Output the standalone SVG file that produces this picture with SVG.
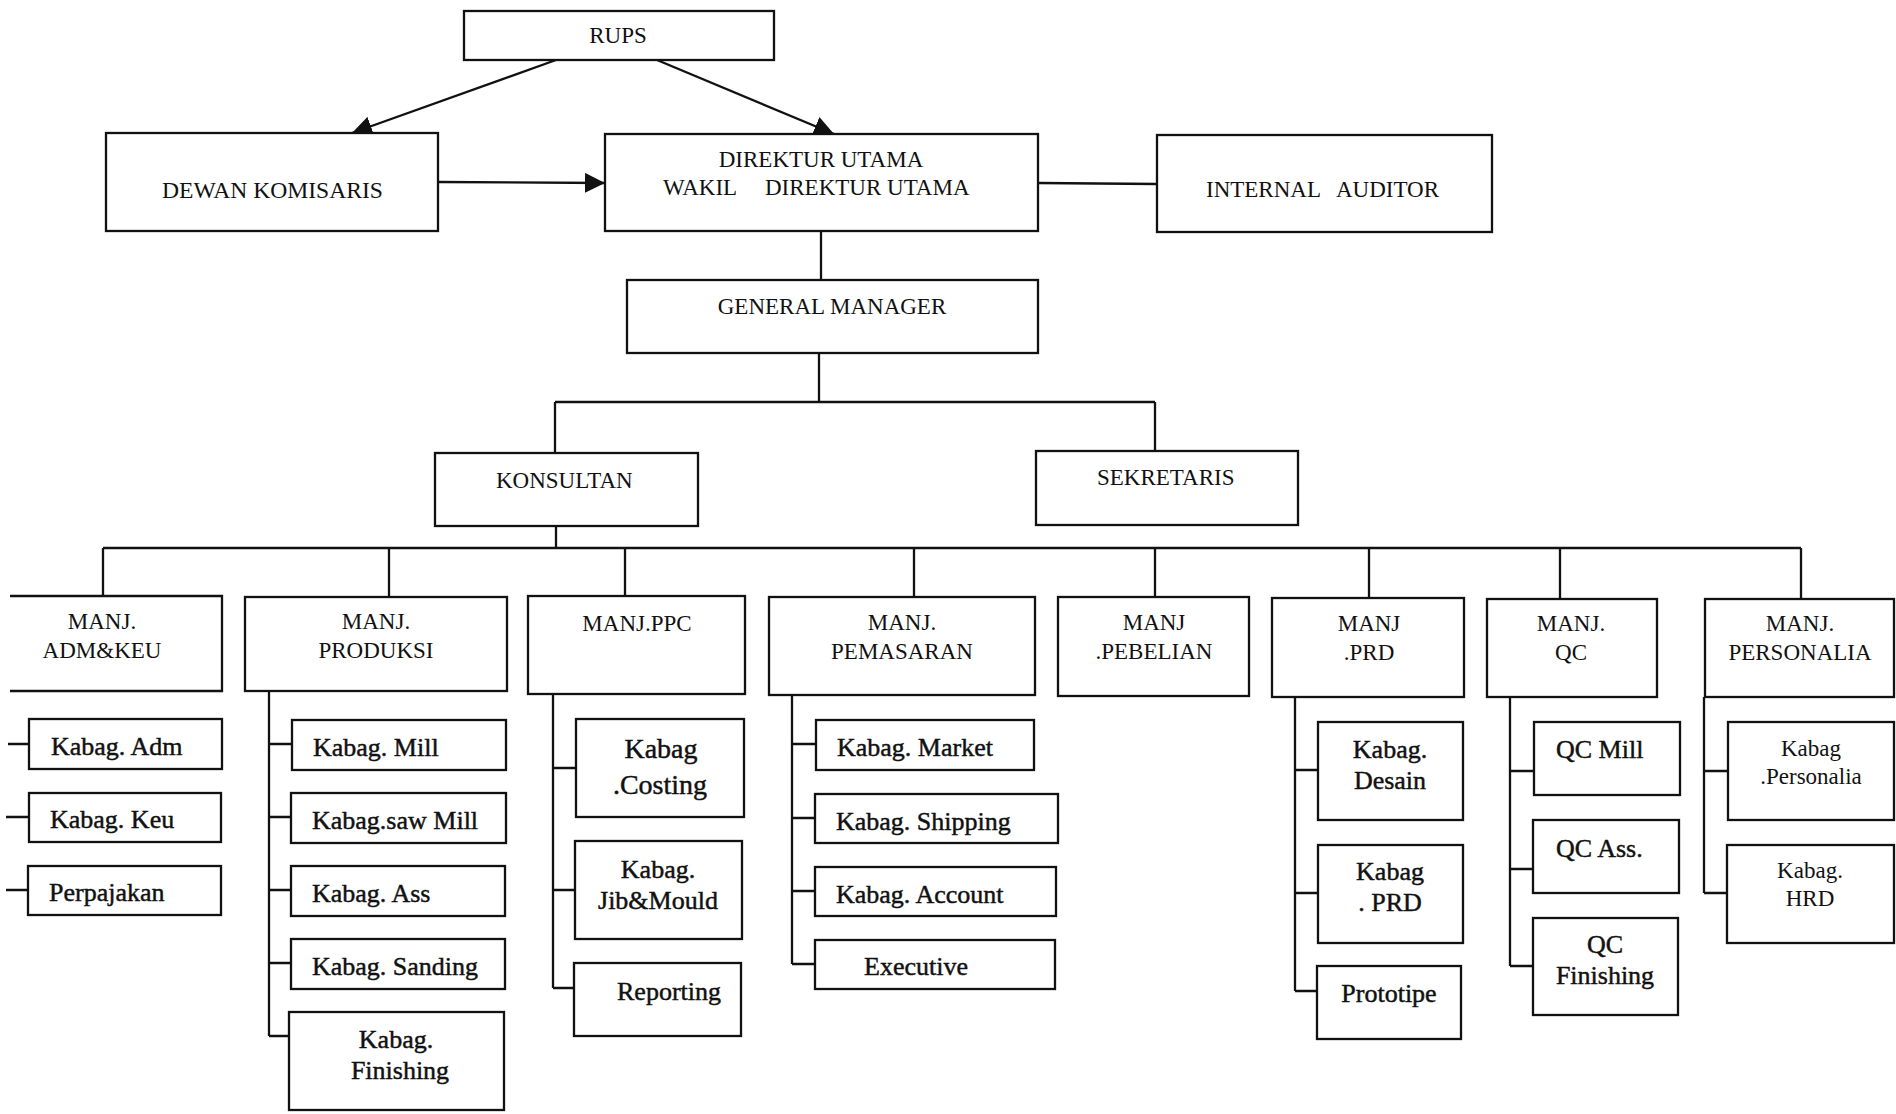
<svg xmlns="http://www.w3.org/2000/svg" width="1896" height="1114" viewBox="0 0 1896 1114">
  <style>
    .box { fill: #ffffff; stroke: #111111; stroke-width: 2.3; }
    .c { fill: none; stroke: #111111; stroke-width: 2.3; }
    .t { font-family: "Liberation Serif", "Times New Roman", serif; fill: #111111; }
    .h { font-size: 23px; }
    .s { font-size: 26px; stroke: #111111; stroke-width: 0.45; }
    .m { text-anchor: middle; }
  </style>
  <defs>
    <marker id="arrow" markerUnits="userSpaceOnUse" markerWidth="22" markerHeight="20" refX="20" refY="10" orient="auto">
      <path d="M0,0 L20,10 L0,20 z" fill="#111111"/>
    </marker>
  </defs>
  <rect width="1896" height="1114" fill="#ffffff"/>

  <!-- connectors -->
  <g id="connectors">
    <line class="c" x1="556" y1="60" x2="352" y2="133" marker-end="url(#arrow)"/>
    <line class="c" x1="657" y1="60" x2="834" y2="134" marker-end="url(#arrow)"/>
    <line class="c" x1="438" y1="182" x2="605" y2="183" marker-end="url(#arrow)"/>
    <line class="c" x1="1038" y1="183" x2="1157" y2="184"/>
    <line class="c" x1="821" y1="231" x2="821" y2="280"/>
    <path class="c" d="M819,353 V402 M555,402 H1155 M555,402 V453 M1155,402 V451"/>
    <path class="c" d="M556,526 V548 M103,548 H1801 M103,548 V596 M389,548 V597 M625,548 V596 M914,548 V597 M1155,548 V597 M1369,548 V598 M1560,548 V599 M1801,548 V599"/>
    <!-- adm & keu -->
    <path class="c" d="M8,744 H29 M6,817 H29 M6,890 H28"/>
    <!-- produksi -->
    <path class="c" d="M269,691 V1036 M269,744 H292 M269,817 H291 M269,890 H291 M269,963 H291 M269,1036 H289"/>
    <!-- ppc -->
    <path class="c" d="M553,694 V988 M553,768 H576 M553,890 H575 M553,988 H574"/>
    <!-- pemasaran -->
    <path class="c" d="M792,695 V964 M792,744 H816 M792,818 H815 M792,891 H815 M792,964 H815"/>
    <!-- prd -->
    <path class="c" d="M1295,697 V991 M1295,770 H1318 M1295,893 H1318 M1295,991 H1317"/>
    <!-- qc -->
    <path class="c" d="M1510,697 V966 M1510,771 H1534 M1510,869 H1533 M1510,966 H1533"/>
    <!-- personalia -->
    <path class="c" d="M1704,697 V893 M1704,771 H1728 M1704,893 H1727"/>
  </g>

  <!-- top management -->
  <g id="rups">
    <rect class="box" x="464" y="11" width="310" height="49"/>
    <text class="t h m" x="618" y="43">RUPS</text>
  </g>
  <g id="dewan-komisaris">
    <rect class="box" x="106" y="133" width="332" height="98"/>
    <text class="t h" x="162" y="198" textLength="221" lengthAdjust="spacingAndGlyphs">DEWAN KOMISARIS</text>
  </g>
  <g id="direktur-utama">
    <rect class="box" x="605" y="134" width="433" height="97"/>
    <text class="t h m" x="821" y="167">DIREKTUR UTAMA</text>
    <text class="t h" x="663" y="195">WAKIL</text>
    <text class="t h" x="765" y="195">DIREKTUR UTAMA</text>
  </g>
  <g id="internal-auditor">
    <rect class="box" x="1157" y="135" width="335" height="97"/>
    <text class="t h" x="1206" y="197">INTERNAL</text>
    <text class="t h" x="1336" y="197">AUDITOR</text>
  </g>
  <g id="general-manager">
    <rect class="box" x="627" y="280" width="411" height="73"/>
    <text class="t h m" x="832" y="314">GENERAL MANAGER</text>
  </g>
  <g id="konsultan">
    <rect class="box" x="435" y="453" width="263" height="73"/>
    <text class="t h" x="496" y="488">KONSULTAN</text>
  </g>
  <g id="sekretaris">
    <rect class="box" x="1036" y="451" width="262" height="74"/>
    <text class="t h" x="1097" y="485">SEKRETARIS</text>
  </g>

  <!-- managers -->
  <g id="manj-adm-keu">
    <path class="box" d="M10,596 H222 V691 H10"/>
    <text class="t h m" x="102" y="629">MANJ.</text>
    <text class="t h m" x="102" y="658">ADM&amp;KEU</text>
  </g>
  <g id="manj-produksi">
    <rect class="box" x="245" y="597" width="262" height="94"/>
    <text class="t h m" x="376" y="629">MANJ.</text>
    <text class="t h m" x="376" y="658">PRODUKSI</text>
  </g>
  <g id="manj-ppc">
    <rect class="box" x="528" y="596" width="217" height="98"/>
    <text class="t h m" x="637" y="631">MANJ.PPC</text>
  </g>
  <g id="manj-pemasaran">
    <rect class="box" x="769" y="597" width="266" height="98"/>
    <text class="t h m" x="902" y="630">MANJ.</text>
    <text class="t h m" x="902" y="659">PEMASARAN</text>
  </g>
  <g id="manj-pebelian">
    <rect class="box" x="1058" y="597" width="191" height="99"/>
    <text class="t h m" x="1154" y="630">MANJ</text>
    <text class="t h m" x="1154" y="659">.PEBELIAN</text>
  </g>
  <g id="manj-prd">
    <rect class="box" x="1272" y="598" width="192" height="99"/>
    <text class="t h m" x="1369" y="631">MANJ</text>
    <text class="t h m" x="1369" y="660">.PRD</text>
  </g>
  <g id="manj-qc">
    <rect class="box" x="1487" y="599" width="170" height="98"/>
    <text class="t h m" x="1571" y="631">MANJ.</text>
    <text class="t h m" x="1571" y="660">QC</text>
  </g>
  <g id="manj-personalia">
    <rect class="box" x="1705" y="599" width="189" height="98"/>
    <text class="t h m" x="1800" y="631">MANJ.</text>
    <text class="t h m" x="1800" y="660">PERSONALIA</text>
  </g>

  <!-- adm & keu units -->
  <g id="kabag-adm">
    <rect class="box" x="29" y="719" width="193" height="50"/>
    <text class="t s" x="51" y="755">Kabag. Adm</text>
  </g>
  <g id="kabag-keu">
    <rect class="box" x="29" y="793" width="192" height="49"/>
    <text class="t s" x="50" y="828">Kabag. Keu</text>
  </g>
  <g id="perpajakan">
    <rect class="box" x="28" y="866" width="193" height="49"/>
    <text class="t s" x="49" y="901">Perpajakan</text>
  </g>

  <!-- produksi units -->
  <g id="kabag-mill">
    <rect class="box" x="292" y="720" width="214" height="50"/>
    <text class="t s" x="313" y="756">Kabag. Mill</text>
  </g>
  <g id="kabag-saw-mill">
    <rect class="box" x="291" y="793" width="215" height="50"/>
    <text class="t s" x="312" y="829">Kabag.saw Mill</text>
  </g>
  <g id="kabag-ass">
    <rect class="box" x="291" y="866" width="214" height="50"/>
    <text class="t s" x="312" y="902">Kabag. Ass</text>
  </g>
  <g id="kabag-sanding">
    <rect class="box" x="291" y="939" width="214" height="50"/>
    <text class="t s" x="312" y="975">Kabag. Sanding</text>
  </g>
  <g id="kabag-finishing">
    <rect class="box" x="289" y="1012" width="215" height="98"/>
    <text class="t s m" x="396" y="1048">Kabag.</text>
    <text class="t s m" x="400" y="1079">Finishing</text>
  </g>

  <!-- ppc units -->
  <g id="kabag-costing">
    <rect class="box" x="576" y="719" width="168" height="98"/>
    <text class="t s m" style="font-size:28px" x="661" y="758">Kabag</text>
    <text class="t s m" style="font-size:28px" x="660" y="794">.Costing</text>
  </g>
  <g id="kabag-jib-mould">
    <rect class="box" x="575" y="841" width="167" height="98"/>
    <text class="t s m" x="658" y="878">Kabag.</text>
    <text class="t s m" x="658" y="909">Jib&amp;Mould</text>
  </g>
  <g id="reporting">
    <rect class="box" x="574" y="963" width="167" height="73"/>
    <text class="t s m" x="669" y="1000">Reporting</text>
  </g>

  <!-- pemasaran units -->
  <g id="kabag-market">
    <rect class="box" x="816" y="720" width="218" height="50"/>
    <text class="t s" x="837" y="756">Kabag. Market</text>
  </g>
  <g id="kabag-shipping">
    <rect class="box" x="815" y="794" width="243" height="49"/>
    <text class="t s" x="836" y="830">Kabag. Shipping</text>
  </g>
  <g id="kabag-account">
    <rect class="box" x="815" y="867" width="241" height="49"/>
    <text class="t s" x="836" y="903">Kabag. Account</text>
  </g>
  <g id="executive">
    <rect class="box" x="815" y="940" width="240" height="49"/>
    <text class="t s m" x="916" y="975">Executive</text>
  </g>

  <!-- prd units -->
  <g id="kabag-desain">
    <rect class="box" x="1318" y="722" width="145" height="98"/>
    <text class="t s m" x="1390" y="758">Kabag.</text>
    <text class="t s m" x="1390" y="789">Desain</text>
  </g>
  <g id="kabag-prd">
    <rect class="box" x="1318" y="845" width="145" height="98"/>
    <text class="t s m" x="1390" y="880">Kabag</text>
    <text class="t s m" x="1390" y="911">. PRD</text>
  </g>
  <g id="prototipe">
    <rect class="box" x="1317" y="966" width="144" height="73"/>
    <text class="t s m" x="1389" y="1002">Prototipe</text>
  </g>

  <!-- qc units -->
  <g id="qc-mill">
    <rect class="box" x="1534" y="722" width="146" height="73"/>
    <text class="t s" x="1556" y="758">QC Mill</text>
  </g>
  <g id="qc-ass">
    <rect class="box" x="1533" y="820" width="146" height="73"/>
    <text class="t s" x="1556" y="857">QC Ass.</text>
  </g>
  <g id="qc-finishing">
    <rect class="box" x="1533" y="918" width="145" height="97"/>
    <text class="t s m" x="1605" y="953">QC</text>
    <text class="t s m" x="1605" y="984">Finishing</text>
  </g>

  <!-- personalia units -->
  <g id="kabag-personalia">
    <rect class="box" x="1728" y="722" width="166" height="98"/>
    <text class="t h m" x="1811" y="756">Kabag</text>
    <text class="t h m" x="1811" y="784">.Personalia</text>
  </g>
  <g id="kabag-hrd">
    <rect class="box" x="1727" y="845" width="167" height="98"/>
    <text class="t h m" x="1810" y="878">Kabag.</text>
    <text class="t h m" x="1810" y="906">HRD</text>
  </g>
</svg>
